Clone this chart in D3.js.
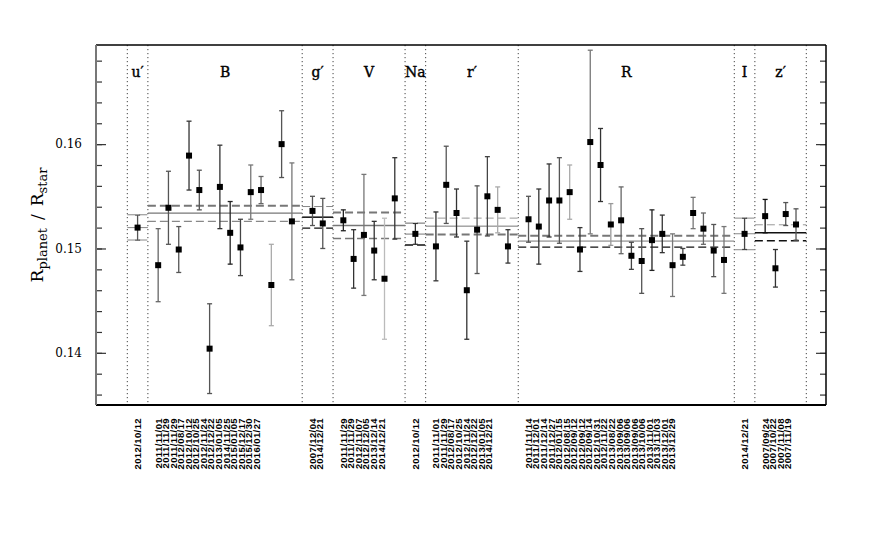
<!DOCTYPE html>
<html>
<head>
<meta charset="utf-8">
<script src="https://cdn.jsdelivr.net/npm/d3@7"></script>
<style>
  body { margin: 0; background: #fff; }
  svg { display: block; }
</style>
</head>
<body>
<div id="chart"></div>
<script>
// filters, one column block per band
var bands = ['u\u2032', 'B', 'g\u2032', 'V', 'Na', 'r\u2032', 'R', 'I', 'z\u2032'];

var dates = [
  ['2012/10/12'],
  ['2011/11/01', '2011/11/29', '2011/11/29', '2012/08/17', '2012/10/12', '2012/10/25', '2012/11/24',
   '2012/12/22', '2013/01/05', '2014/11/25', '2015/01/05', '2015/12/17', '2015/12/30', '2016/01/27'],
  ['2007/12/04', '2014/12/21'],
  ['2011/11/29', '2011/11/29', '2012/11/07', '2012/12/05', '2013/12/14', '2014/12/21'],
  ['2012/10/12'],
  ['2011/11/01', '2011/11/29', '2012/08/17', '2012/10/25', '2012/11/24', '2012/12/22', '2013/01/05', '2014/12/21'],
  ['2011/11/14', '2011/12/01', '2011/12/14', '2011/12/27', '2012/01/15', '2012/08/15', '2012/09/12',
   '2012/09/12', '2012/09/14', '2012/10/31', '2012/11/22', '2013/08/22', '2013/09/06', '2013/09/06',
   '2013/09/06', '2013/10/06', '2013/11/01', '2013/11/03', '2013/12/01', '2013/12/29'],
  ['2014/12/21'],
  ['2007/09/24', '2007/10/22', '2007/11/08', '2007/11/19']
];

var ratio = [
  [0.1520],
  [0.1484, 0.1539, 0.1499, 0.1589, 0.1556, 0.1404, 0.1559, 0.1515, 0.1501, 0.1554, 0.1556, 0.1465, 0.1600, 0.1526],
  [0.1536, 0.1524],
  [0.1527, 0.1490, 0.1513, 0.1498, 0.1471, 0.1548],
  [0.1514],
  [0.1502, 0.1561, 0.1534, 0.1460, 0.1518, 0.1550, 0.1537, 0.1502],
  [0.1528, 0.1521, 0.1546, 0.1546, 0.1554, 0.1499, 0.1602, 0.1580, 0.1523, 0.1527,
   0.1493, 0.1488, 0.1508, 0.1514, 0.1484, 0.1492, 0.1534, 0.1519, 0.1498, 0.1489],
  [0.1514],
  [0.1531, 0.1481, 0.1533, 0.1523]
];

var ratioErr = [
  [0.0012],
  [0.0035, 0.0035, 0.0022, 0.0033, 0.0019, 0.0043, 0.0040, 0.0030, 0.0027, 0.0026, 0.0013, 0.0039, 0.0032, 0.0056],
  [0.0014, 0.0024],
  [0.0010, 0.0028, 0.0058, 0.0028, 0.0058, 0.0039],
  [0.0010],
  [0.0033, 0.0037, 0.0023, 0.0047, 0.0042, 0.0038, 0.0022, 0.0016],
  [0.0022, 0.0036, 0.0035, 0.0041, 0.0026, 0.0021, 0.0088, 0.0035, 0.0020, 0.0032,
   0.0013, 0.0031, 0.0029, 0.0018, 0.0030, 0.0008, 0.0015, 0.0015, 0.0025, 0.0032],
  [0.0015],
  [0.0016, 0.0018, 0.0011, 0.0015]
];

// weighted mean per band and its 1-sigma envelope
var bandMean  = [0.1520, 0.15339, 0.15300, 0.15220, 0.15138, 0.15214, 0.15071, 0.15141, 0.15150];
var bandUpper = [0.15323, 0.15409, 0.15402, 0.15344, 0.15243, 0.15291, 0.15122, 0.15291, 0.15227];
var bandLower = [0.15081, 0.15259, 0.15195, 0.15096, 0.15033, 0.15134, 0.15013, 0.14988, 0.15074];

// styling (kept apart from the values)
var barShade = [
  ['#555'],
  ['#666', '#555', '#555', '#333', '#555', '#555', '#333', '#222', '#444', '#777', '#666', '#aaa', '#555', '#777'],
  ['#555', '#555'],
  ['#222', '#333', '#777', '#333', '#bbb', '#333'],
  ['#333'],
  ['#333', '#555', '#333', '#333', '#555', '#444', '#aaa', '#333'],
  ['#555', '#333', '#333', '#555', '#aaa', '#333', '#777', '#333', '#999', '#666',
   '#444', '#555', '#222', '#333', '#777', '#444', '#777', '#666', '#555', '#777'],
  ['#444'],
  ['#111', '#333', '#555', '#555']
];
// [mean colour, mean width, upper colour, upper width, lower colour, lower width]
var lineStyle = [
  ['#888', 1, '#888', 1, '#888', 1],
  ['#777', 1.2, '#777', 2, '#888', 1.2],
  ['#111', 1.5, '#888', 1, '#111', 1.4],
  ['#777', 1.6, '#777', 2, '#777', 1.6],
  ['#777', 1, '#666', 1, '#111', 1.4],
  ['#777', 1, '#999', 1, '#777', 2],
  ['#777', 1, '#777', 2, '#111', 1.4],
  ['#888', 1, '#888', 1, '#888', 1],
  ['#111', 1.5, '#999', 1, '#111', 1.4]
];

var W = 872, H = 545,
    frame = {left: 96, right: 826, top: 45, bottom: 405},
    labelStep = 7.55;

// slot layout: separator, points..., separator, points..., separator
var slot = 0, seps = [0], points = [], groups = [];
bands.forEach(function (b, i) {
  var first = slot + 1;
  ratio[i].forEach(function (v, j) {
    slot++;
    points.push({band: i, idx: j, slot: slot, v: v, e: ratioErr[i][j], date: dates[i][j], shade: barShade[i][j]});
  });
  groups.push({name: b, i: i, first: first, last: slot, lo: slot - ratio[i].length, hi: slot + 1});
  slot++;
  seps.push(slot);
});

var x = d3.scaleLinear().domain([0, slot]).range([127.3, 806.3]),
    y = d3.scaleLinear().domain([0.135, 0.1695]).range([frame.bottom, frame.top]);

var svg = d3.select('#chart').append('svg').attr('width', W).attr('height', H);
svg.append('rect').attr('width', W).attr('height', H).attr('fill', '#fff');

// separators
svg.append('g').selectAll('line').data(seps).enter().append('line')
  .attr('x1', function (d) { return x(d); }).attr('x2', function (d) { return x(d); })
  .attr('y1', frame.top).attr('y2', frame.bottom)
  .attr('stroke', '#444').attr('stroke-width', 1).attr('stroke-dasharray', '1.2,2.8');

// band mean + envelope
var gl = svg.append('g');
groups.forEach(function (g) {
  var s = lineStyle[g.i], x1 = x(g.lo), x2 = x(g.hi);
  gl.append('line').attr('x1', x1).attr('x2', x2).attr('y1', y(bandMean[g.i])).attr('y2', y(bandMean[g.i]))
    .attr('stroke', s[0]).attr('stroke-width', s[1]);
  gl.append('line').attr('x1', x1).attr('x2', x2).attr('y1', y(bandUpper[g.i])).attr('y2', y(bandUpper[g.i]))
    .attr('stroke', s[2]).attr('stroke-width', s[3]).attr('stroke-dasharray', '8,4');
  gl.append('line').attr('x1', x1).attr('x2', x2).attr('y1', y(bandLower[g.i])).attr('y2', y(bandLower[g.i]))
    .attr('stroke', s[4]).attr('stroke-width', s[5]).attr('stroke-dasharray', '8,4');
});

// error bars
var eb = svg.append('g').selectAll('g').data(points).enter().append('g')
  .attr('stroke', function (d) { return d.shade; }).attr('stroke-width', 1.3);
eb.append('line')
  .attr('x1', function (d) { return x(d.slot); }).attr('x2', function (d) { return x(d.slot); })
  .attr('y1', function (d) { return y(d.v + d.e); }).attr('y2', function (d) { return y(d.v - d.e); });
eb.append('line')
  .attr('x1', function (d) { return x(d.slot) - 2.5; }).attr('x2', function (d) { return x(d.slot) + 2.5; })
  .attr('y1', function (d) { return y(d.v + d.e); }).attr('y2', function (d) { return y(d.v + d.e); });
eb.append('line')
  .attr('x1', function (d) { return x(d.slot) - 2.5; }).attr('x2', function (d) { return x(d.slot) + 2.5; })
  .attr('y1', function (d) { return y(d.v - d.e); }).attr('y2', function (d) { return y(d.v - d.e); });

// markers
svg.append('g').selectAll('rect').data(points).enter().append('rect')
  .attr('x', function (d) { return x(d.slot) - 3; })
  .attr('y', function (d) { return y(d.v) - 3; })
  .attr('width', 6).attr('height', 6).attr('fill', '#000');

// band names
svg.append('g').selectAll('text').data(groups).enter().append('text')
  .attr('x', function (d) { return x((d.lo + d.hi) / 2); })
  .attr('y', 77)
  .attr('text-anchor', 'middle')
  .attr('stroke', '#000').attr('stroke-width', 0.4)
  .style('font-family', '"DejaVu Serif", serif').style('font-size', '14px')
  .text(function (d) { return d.name; });

// date labels, packed tighter than the points
svg.append('g').selectAll('text').data(points).enter().append('text')
  .attr('transform', function (d) {
    var g = groups[d.band];
    return 'translate(' + (x(g.first) + d.idx * labelStep) + ',418) rotate(-90)';
  })
  .attr('dy', '0.36em')
  .attr('text-anchor', 'end')
  .style('font-family', '"Liberation Sans", Arial, sans-serif').style('font-size', '9.5px').style('font-weight', 'bold')
  .style('letter-spacing', '0.4px')
  .text(function (d) { return d.date; });

// axes
var minor = d3.range(0.136, 0.1691, 0.002),
    major = [0.14, 0.15, 0.16];

function ticks(g) {
  g.select('.domain').remove();
  g.selectAll('line').attr('stroke', '#333').attr('stroke-width', 1.2);
}

svg.append('g').attr('transform', 'translate(' + frame.left + ',0)')
  .call(d3.axisLeft(y).tickValues(minor).tickSize(-6).tickFormat('')).call(ticks);
svg.append('g').attr('transform', 'translate(' + frame.left + ',0)')
  .call(d3.axisLeft(y).tickValues(major).tickSize(-10).tickPadding(14).tickFormat(d3.format('.2f')))
  .call(ticks)
  .selectAll('text').style('font-family', '"DejaVu Serif", serif').style('font-size', '12px').attr('fill', '#000');
svg.append('g').attr('transform', 'translate(' + frame.right + ',0)')
  .call(d3.axisRight(y).tickValues(minor).tickSize(-6).tickFormat('')).call(ticks);
svg.append('g').attr('transform', 'translate(' + frame.right + ',0)')
  .call(d3.axisRight(y).tickValues(major).tickSize(-10).tickFormat('')).call(ticks);

// frame
svg.append('line').attr('x1', frame.left).attr('x2', frame.right).attr('y1', frame.top).attr('y2', frame.top)
  .attr('stroke', '#000').attr('stroke-width', 1.5);
svg.append('line').attr('x1', frame.left).attr('x2', frame.right).attr('y1', frame.bottom).attr('y2', frame.bottom)
  .attr('stroke', '#000').attr('stroke-width', 1.8);
svg.append('line').attr('x1', frame.right).attr('x2', frame.right).attr('y1', frame.top).attr('y2', frame.bottom)
  .attr('stroke', '#000').attr('stroke-width', 1.5);
svg.append('line').attr('x1', frame.left).attr('x2', frame.left).attr('y1', frame.top).attr('y2', frame.bottom)
  .attr('stroke', '#777').attr('stroke-width', 2);

// y label
var yl = svg.append('text')
  .attr('transform', 'translate(43,' + (frame.top + frame.bottom) / 2 + ') rotate(-90)')
  .attr('text-anchor', 'middle')
  .style('font-family', '"DejaVu Serif", serif').style('font-size', '17px');
yl.append('tspan').text('R');
yl.append('tspan').attr('dy', 4).style('font-size', '13px').text('planet');
yl.append('tspan').attr('dy', -4).attr('dx', 8).text('/');
yl.append('tspan').attr('dx', 8).text('R');
yl.append('tspan').attr('dy', 4).style('font-size', '13px').text('star');
</script>
</body>
</html>
